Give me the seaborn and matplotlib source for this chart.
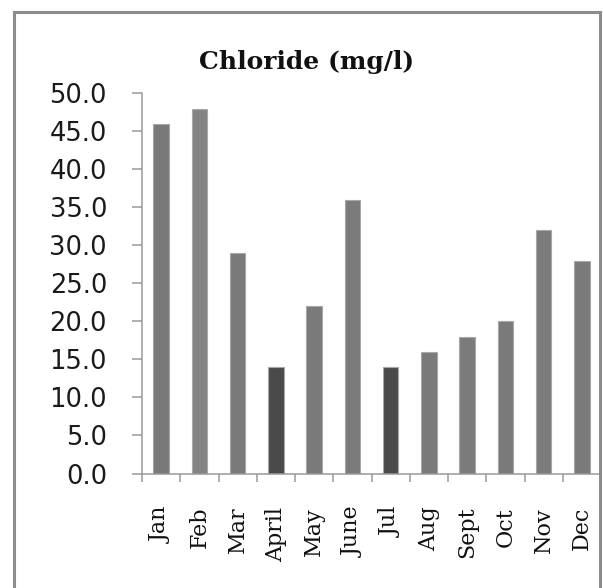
import matplotlib
matplotlib.use("Agg")
import matplotlib.pyplot as plt
import seaborn as sns
import pandas as pd
from matplotlib.patches import Rectangle

months = ["Jan", "Feb", "Mar", "April", "May", "June", "Jul", "Aug", "Sept", "Oct", "Nov", "Dec"]
chloride = [46, 48, 29, 14, 22, 36, 14, 16, 18, 20, 32, 28]
bar_colors = ["#797979", "#838383", "#7a7a7a", "#4a4a4a", "#7a7a7a", "#7b7b7b",
              "#4a4a4a", "#7a7a7a", "#7b7b7b", "#7a7a7a", "#7b7b7b", "#7a7a7a"]
yticks = [0, 5, 10, 15, 20, 25, 30, 35, 40, 45, 50]

df = pd.DataFrame({"month": months, "value": chloride})

sns.set_style("white")
W, H = 603, 588
fig = plt.figure(figsize=(W / 100, H / 100), dpi=100)
ax = fig.add_axes([142 / W, 1 - 473.5 / H, (601 - 142) / W, (473.5 - 93.3) / H])

sns.barplot(data=df, x="month", y="value", hue="month", palette=bar_colors,
            legend=False, width=0.41, edgecolor="#a8a8a8", linewidth=0.8,
            saturation=1, ax=ax)

ax.set_ylim(0, 50)
ax.set_xlim(-0.5, 11.5)
ax.set_yticks(yticks)
ax.set_yticklabels([f"{v:.1f}" for v in yticks], fontsize=18.5,
                   family="DejaVu Sans", color="#1a1a1a")
ax.set_xticks(range(len(months)))
ax.set_xticklabels(months, rotation=90, fontsize=16, family="DejaVu Serif",
                   color="#111111")
ax.set_xticks([i - 0.5 for i in range(len(months) + 1)], minor=True)
ax.tick_params(axis="x", which="major", length=0, pad=24)
ax.tick_params(axis="x", which="minor", length=5.8, width=1.1, color="#999999",
               direction="out", bottom=True)
ax.tick_params(axis="y", which="major", length=7.2, width=1.1, color="#999999",
               direction="out", left=True, pad=18)
ax.set_xlabel("")
ax.set_ylabel("")
for s in ["top", "right"]:
    ax.spines[s].set_visible(False)
for s in ["left", "bottom"]:
    ax.spines[s].set_color("#999999")
    ax.spines[s].set_linewidth(1.1)

fig.text(307 / W, 1 - 62 / H, "Chloride (mg/l)", ha="center", va="center",
         fontsize=18, fontweight="bold", family="DejaVu Serif", color="#111111")

fig.patches.append(Rectangle((14 / W, -0.05), (600 - 14) / W, 1 - 11.5 / H + 0.05,
                             transform=fig.transFigure, fill=False,
                             edgecolor="#8c8c8c", linewidth=2.2, zorder=10))

fig.savefig("out.png", dpi=100)
